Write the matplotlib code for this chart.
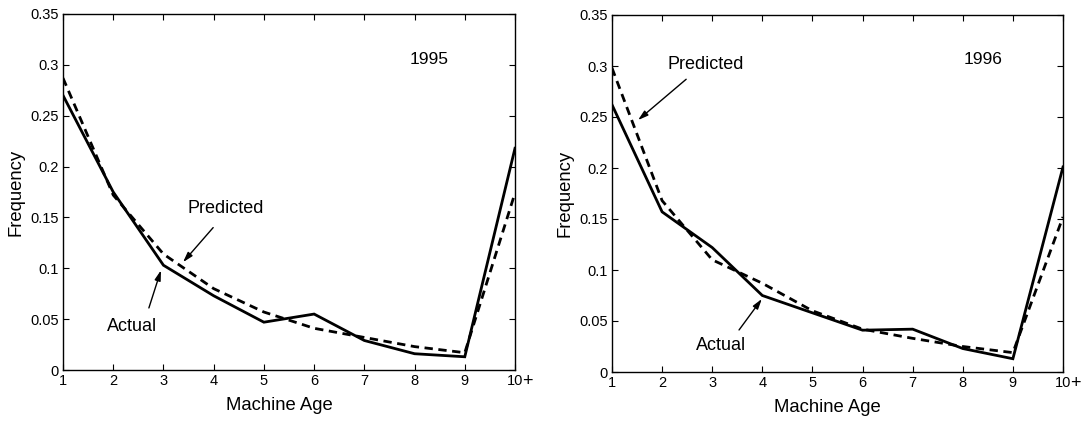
import matplotlib
matplotlib.use("Agg")
import matplotlib.pyplot as plt

plt.rcParams['font.family'] = ['Liberation Sans', 'DejaVu Sans']

ages = [1, 2, 3, 4, 5, 6, 7, 8, 9, 10]
age_labels = ['1', '2', '3', '4', '5', '6', '7', '8', '9', '10']
yticks = [0, 0.05, 0.1, 0.15, 0.2, 0.25, 0.3, 0.35]
ytick_labels = ['0', '0.05', '0.1', '0.15', '0.2', '0.25', '0.3', '0.35']

actual_1995 = [0.270, 0.175, 0.103, 0.073, 0.047, 0.055, 0.029, 0.016, 0.013, 0.218]
predicted_1995 = [0.287, 0.172, 0.114, 0.080, 0.057, 0.041, 0.032, 0.023, 0.017, 0.174]
actual_1996 = [0.262, 0.157, 0.122, 0.075, 0.058, 0.041, 0.042, 0.023, 0.013, 0.201]
predicted_1996 = [0.298, 0.168, 0.110, 0.087, 0.060, 0.042, 0.033, 0.025, 0.019, 0.152]

fig = plt.figure(figsize=(10.88, 4.22), dpi=100)
W, H = 1088, 422
ax1 = fig.add_axes([63 / W, 1 - 370 / H, (515 - 63) / W, (370 - 14) / H])
ax2 = fig.add_axes([612 / W, 1 - 372 / H, (1063 - 612) / W, (372 - 15) / H])


def style(ax):
    ax.set_xlim(1, 10)
    ax.set_ylim(0, 0.35)
    ax.set_xticks(ages)
    ax.set_xticklabels(age_labels)
    ax.set_yticks(yticks)
    ax.set_yticklabels(ytick_labels)
    ax.tick_params(direction='in', top=True, right=True, labelsize=10.5, length=4, width=0.8, pad=3)
    for s in ax.spines.values():
        s.set_linewidth(1.0)
    ax.set_xlabel('Machine Age', fontsize=13.3, labelpad=1)
    ax.xaxis.set_label_coords(0.478, -0.075)
    ax.set_ylabel('Frequency', fontsize=13.3, labelpad=4)
    ax.annotate('+', xy=(1.0, 0.0), xycoords='axes fraction', xytext=(5, -8.3),
                textcoords='offset points', fontsize=13, ha='left', va='center')


for ax, act, pred in [(ax1, actual_1995, predicted_1995), (ax2, actual_1996, predicted_1996)]:
    ax.plot(ages, act, color='black', lw=2.0, solid_joinstyle='miter')
    ax.plot(ages, pred, color='black', lw=2.0, ls=(0, (3, 2)))
    style(ax)

arrow = dict(arrowstyle='-|>,head_length=0.6,head_width=0.18', color='black', lw=1.0,
             shrinkA=0, shrinkB=0)

ax1.text(8.29, 0.305, '1995', fontsize=12.5, ha='center', va='center')
ax1.text(4.24, 0.159, 'Predicted', fontsize=13, ha='center', va='center')
ax1.annotate('', xy=(3.39, 0.106), xytext=(3.99, 0.140), arrowprops=arrow)
ax1.text(2.37, 0.043, 'Actual', fontsize=13, ha='center', va='center')
ax1.annotate('', xy=(2.95, 0.098), xytext=(2.71, 0.061), arrowprops=arrow)

ax2.text(8.40, 0.306, '1996', fontsize=12.5, ha='center', va='center')
ax2.text(2.87, 0.3015, 'Predicted', fontsize=13, ha='center', va='center')
ax2.annotate('', xy=(1.52, 0.247), xytext=(2.48, 0.287), arrowprops=arrow)
ax2.text(3.17, 0.0255, 'Actual', fontsize=13, ha='center', va='center')
ax2.annotate('', xy=(3.99, 0.0716), xytext=(3.535, 0.0412), arrowprops=arrow)

fig.savefig('out.png', dpi=100)
